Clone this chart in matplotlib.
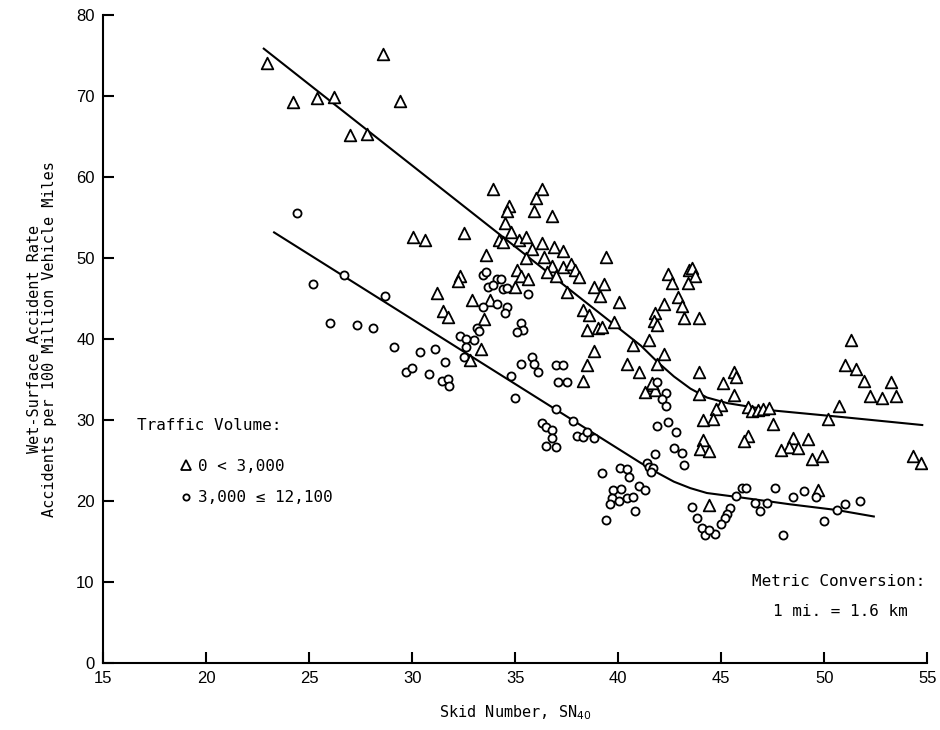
import matplotlib
matplotlib.use('Agg')
import matplotlib.pyplot as plt
from matplotlib.lines import Line2D

# Low traffic volume sites (0 < 3,000)
tri_x = [22.96, 28.6, 24.2, 25.4, 26.2, 29.4, 27.0, 27.8,
         30.05, 30.6, 32.5, 31.2, 31.5, 31.75,
         33.6, 32.3, 32.2, 32.9, 33.5, 32.8, 33.35,
         33.9, 36.3, 36.0, 34.7, 34.6, 35.9, 36.8, 34.5, 34.8,
         34.2, 34.4, 35.2, 35.5, 35.8, 36.3, 36.9, 37.3,
         35.5, 36.4, 36.8, 37.3, 37.7, 37.9, 38.1,
         35.1, 35.3, 35.6, 36.55, 37.0,
         39.4, 38.8, 39.3, 39.1, 40.05,
         35.0, 33.8, 37.5,
         38.3, 38.6, 39.8, 38.5, 39.0, 39.2,
         41.8, 41.75, 41.9, 41.5, 40.7,
         38.8, 38.5, 38.3, 40.4, 41.0, 41.9, 42.2,
         42.4, 42.6, 42.9, 43.1, 42.2,
         43.45, 43.6, 43.7, 43.4, 43.2, 43.9,
         43.9, 45.1, 45.6, 45.7, 45.6, 43.9,
         41.3, 41.7, 41.8, 41.65,
         45.0, 44.75, 44.6, 44.1,
         46.3, 46.5, 46.8, 47.0, 47.3, 47.5,
         50.7, 50.2, 51.3, 51.0, 51.55, 51.9, 53.25,
         52.2, 52.8, 53.5, 54.3, 54.7,
         46.3, 46.1, 44.1, 43.95, 44.4,
         48.5, 48.3, 47.9, 48.7, 49.2, 49.4, 49.9,
         44.4, 49.7]
tri_y = [74.1, 75.3, 69.3, 69.8, 69.9, 69.4, 65.2, 65.4,
         52.6, 52.3, 53.1, 45.7, 43.5, 42.7,
         50.4, 47.8, 47.2, 44.9, 42.5, 37.4, 38.8,
         58.5, 58.5, 57.5, 56.5, 55.9, 55.8, 55.2, 54.3, 53.3,
         52.2, 52.0, 52.2, 52.6, 51.2, 51.9, 51.4, 50.9,
         50.0, 50.1, 49.1, 48.9, 49.3, 48.5, 47.7,
         48.6, 47.8, 47.5, 48.3, 47.8,
         50.1, 46.4, 46.8, 45.4, 44.6,
         46.4, 44.9, 45.8,
         43.6, 43.0, 42.1, 41.1, 41.4, 41.5,
         43.3, 42.3, 41.7, 39.9, 39.3,
         38.6, 36.8, 34.9, 36.9, 36.0, 37.0, 38.2,
         48.1, 47.0, 45.2, 44.1, 44.3,
         48.6, 48.8, 47.8, 46.9, 42.6, 42.6,
         35.9, 34.6, 35.9, 35.3, 33.1, 33.2,
         33.5, 34.3, 33.7, 34.6,
         31.9, 31.4, 30.1, 30.0,
         31.6, 31.1, 31.2, 31.4, 31.5, 29.5,
         31.8, 30.2, 39.9, 36.8, 36.3, 34.9, 34.7,
         33.0, 32.8, 33.0, 25.6, 24.7,
         28.1, 27.4, 27.5, 26.4, 26.2,
         27.8, 26.7, 26.3, 26.5, 27.7, 25.2, 25.6,
         19.5, 21.4]

# Higher traffic volume sites (3,000 - 12,100)
circ_x = [24.4, 26.7, 25.2, 26.0, 27.3, 28.1, 28.7, 29.1,
          30.4, 31.1, 31.6, 29.7, 30.0, 30.8, 31.45, 31.75, 31.8,
          33.45, 33.6, 33.7, 33.45, 34.1, 34.6, 34.5,
          33.15, 33.25, 33.0, 32.3, 32.6, 32.6, 32.5,
          34.1, 34.3, 33.9, 34.4, 34.6, 35.6,
          35.3, 35.4, 35.1,
          35.8, 35.3, 35.9, 36.1, 34.8, 35.0,
          37.0, 37.3, 37.1, 37.5, 37.0, 37.8,
          36.3, 36.5, 36.8, 36.8, 36.5, 37.0,
          38.0, 38.3, 38.5, 38.8,
          41.9, 42.3, 42.1, 42.3,
          41.9, 42.4, 42.8, 42.7, 43.1, 43.2, 41.8,
          41.4, 41.5, 41.7, 41.6, 41.0, 41.3,
          39.2, 40.1, 40.4, 40.5,
          39.75, 40.15, 39.7, 40.05, 40.4, 40.7, 39.6, 40.8, 39.4,
          46.0, 46.2, 45.7, 47.6, 48.5, 49.0, 49.6,
          51.0, 51.75, 50.6, 50.0,
          43.6, 43.8, 44.05, 44.2, 44.7, 44.4,
          45.4, 45.3, 45.2, 45.0,
          46.65, 47.2, 46.9, 48.0]
circ_y = [55.6, 47.9, 46.8, 42.0, 41.7, 41.4, 45.3, 39.1,
          38.4, 38.8, 37.2, 36.0, 36.4, 35.7, 34.8, 35.1, 34.2,
          47.9, 48.3, 46.4, 44.0, 44.4, 44.0, 43.3,
          41.4, 41.0, 39.9, 40.4, 40.0, 39.0, 37.8,
          47.5, 47.4, 46.7, 46.2, 46.3, 45.6,
          42.0, 41.2, 40.9,
          37.8, 37.0, 36.9, 36.0, 35.4, 32.8,
          36.8, 36.8, 34.7, 34.7, 31.4, 29.9,
          29.6, 29.1, 28.8, 27.8, 26.8, 26.7,
          28.1, 27.9, 28.5, 27.8,
          34.7, 33.3, 32.6, 31.7,
          29.3, 29.8, 28.5, 26.5, 25.9, 24.4, 25.8,
          24.7, 24.2, 24.1, 23.6, 21.9, 21.4,
          23.5, 24.1, 24.0, 23.0,
          21.4, 21.5, 20.4, 20.0, 20.4, 20.5, 19.6, 18.8, 17.7,
          21.6, 21.6, 20.6, 21.6, 20.5, 21.2, 20.5,
          19.6, 20.0, 18.9, 17.5,
          19.3, 17.9, 16.7, 15.8, 15.9, 16.4,
          19.1, 18.4, 17.9, 17.2,
          19.8, 19.8, 18.8, 15.8]

# Fitted relationship lines (hand-drawn in the original)
fit_low_x = [22.8, 41.1, 41.9, 42.7, 43.5, 44.3, 45.3, 47.5, 50.8, 54.75]
fit_low_y = [75.9, 39.2, 37.2, 35.4, 33.9, 32.8, 32.1, 31.2, 30.4, 29.4]
fit_high_x = [23.3, 41.1, 41.9, 42.7, 43.5, 44.3, 45.8, 48.35, 50.6, 52.4]
fit_high_y = [53.2, 24.7, 23.5, 22.4, 21.6, 21.0, 20.5, 19.6, 18.9, 18.1]

xticks = [15, 20, 25, 30, 35, 40, 45, 50, 55]
yticks = [0, 10, 20, 30, 40, 50, 60, 70, 80]

mono = 'DejaVu Sans Mono'
tickfont = 'Liberation Sans'

fig = plt.figure(figsize=(9.4, 7.3), dpi=100)
ax = fig.add_axes([0.1096, 0.0918, 0.877, 0.887])

ax.plot(fit_low_x, fit_low_y, color='black', linewidth=1.5, zorder=2)
ax.plot(fit_high_x, fit_high_y, color='black', linewidth=1.5, zorder=2)

ax.scatter(tri_x, tri_y, marker='^', s=70, facecolors='white',
           edgecolors='black', linewidths=1.3, zorder=3)
ax.scatter(circ_x, circ_y, marker='o', s=34, facecolors='white',
           edgecolors='black', linewidths=1.3, zorder=3)

ax.set_xlim(15, 55)
ax.set_ylim(0, 80)
ax.set_xticks(xticks)
ax.set_yticks(yticks)
for s in ['top', 'right']:
    ax.spines[s].set_visible(False)
for s in ['left', 'bottom']:
    ax.spines[s].set_linewidth(1.5)
ax.tick_params(direction='in', length=8, width=1.5, labelsize=12, pad=6)
for lab in ax.get_xticklabels() + ax.get_yticklabels():
    lab.set_fontfamily(tickfont)

ax.set_xlabel('Skid Number, SN$_{40}$', fontsize=11, family=mono, labelpad=12)
ax.set_ylabel('Wet-Surface Accident Rate\nAccidents per 100 Million Vehicle Miles',
              fontsize=11, family=mono, labelpad=14, linespacing=1.0)

# legend block
ax.text(0.041, 0.366, 'Traffic Volume:', transform=ax.transAxes,
        fontsize=11.5, family=mono, va='center')
handles = [Line2D([], [], marker='^', linestyle='none', markersize=7,
                  markerfacecolor='white', markeredgecolor='black', markeredgewidth=1.3),
           Line2D([], [], marker='o', linestyle='none', markersize=4.5,
                  markerfacecolor='white', markeredgecolor='black', markeredgewidth=1.3)]
leg = ax.legend(handles, ['0 < 3,000', '3,000 \u2264 12,100'], loc='upper left',
                bbox_to_anchor=(0.074, 0.338), frameon=False, handletextpad=0.35,
                handlelength=0.9, labelspacing=1.05, prop={'family': mono, 'size': 11.5})

ax.text(0.997, 0.126, 'Metric Conversion:', transform=ax.transAxes,
        fontsize=11.5, family=mono, ha='right', va='center')
ax.text(0.895, 0.080, '1 mi. = 1.6 km', transform=ax.transAxes,
        fontsize=11.5, family=mono, ha='center', va='center')

fig.savefig('out.png', dpi=100, facecolor='white')
